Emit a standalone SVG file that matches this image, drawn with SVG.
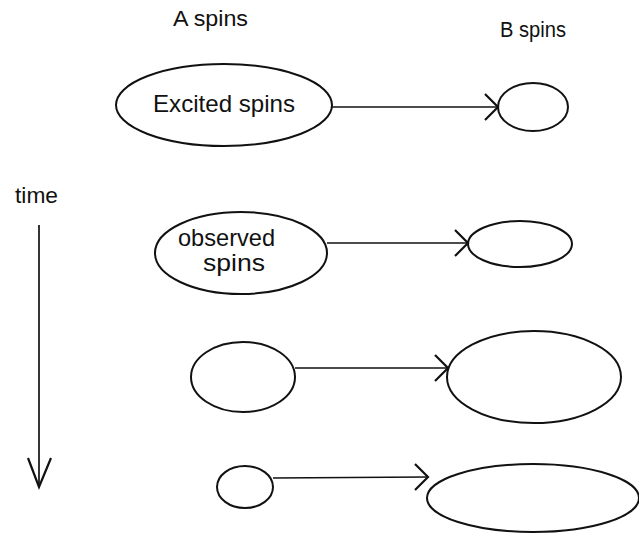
<svg xmlns="http://www.w3.org/2000/svg" width="639" height="533" viewBox="0 0 639 533">
  <style>
    .lbl { font-family: "Liberation Sans", Arial, sans-serif; font-size: 22px; fill: #111; }
    .big { font-size: 24px; }
    .node { fill: none; stroke: #111; stroke-width: 2; }
    .wire { fill: none; stroke: #111; stroke-width: 1.7; }
    .head { fill: none; stroke: #111; stroke-width: 2.2; stroke-linejoin: miter; }
  </style>
  <rect width="639" height="533" fill="#fff"/>

  <!-- column headings -->
  <text id="label-a" class="lbl" x="173" y="26" textLength="75" lengthAdjust="spacingAndGlyphs">A spins</text>
  <text id="label-b" class="lbl" x="500" y="37" textLength="66" lengthAdjust="spacingAndGlyphs">B spins</text>

  <!-- time axis -->
  <g id="time-axis">
    <text class="lbl" x="15" y="203" textLength="43" lengthAdjust="spacingAndGlyphs">time</text>
    <line class="wire" x1="39" y1="225" x2="39" y2="486"/>
    <path class="head" d="M28,458 L39,487 L51,458"/>
  </g>

  <!-- A-side spin populations -->
  <g id="a1">
    <ellipse class="node" cx="224" cy="105" rx="108" ry="41"/>
    <text class="lbl big" x="153" y="112" textLength="142" lengthAdjust="spacingAndGlyphs">Excited spins</text>
  </g>
  <g id="a2">
    <ellipse class="node" cx="241" cy="253" rx="86" ry="41"/>
    <text class="lbl big" x="178" y="246" textLength="97" lengthAdjust="spacingAndGlyphs">observed</text>
    <text class="lbl big" x="203" y="271" textLength="62" lengthAdjust="spacingAndGlyphs">spins</text>
  </g>
  <g id="a3">
    <ellipse class="node" cx="243" cy="377" rx="52" ry="35"/>
  </g>
  <g id="a4">
    <ellipse class="node" cx="245" cy="487" rx="28" ry="21"/>
  </g>

  <!-- B-side spin populations -->
  <g id="b1">
    <ellipse class="node" cx="533" cy="107" rx="35" ry="24"/>
  </g>
  <g id="b2">
    <ellipse class="node" cx="520" cy="244" rx="52" ry="23"/>
  </g>
  <g id="b3">
    <ellipse class="node" cx="534" cy="377" rx="87" ry="46"/>
  </g>
  <g id="b4">
    <ellipse class="node" cx="533" cy="498" rx="106" ry="34"/>
  </g>

  <!-- transfer arrows A -> B -->
  <g id="connectors">
    <line class="wire" x1="332" y1="107" x2="497" y2="107"/>
    <path class="head" d="M485,94 L498,107 L485,120"/>
    <line class="wire" x1="327" y1="243" x2="467" y2="243"/>
    <path class="head" d="M455,230 L468,243 L455,256"/>
    <line class="wire" x1="295" y1="368" x2="447" y2="368"/>
    <path class="head" d="M435,355 L448,368 L435,381"/>
    <line class="wire" x1="273" y1="478" x2="427" y2="477"/>
    <path class="head" d="M415,464 L428,477 L415,490"/>
  </g>
</svg>
